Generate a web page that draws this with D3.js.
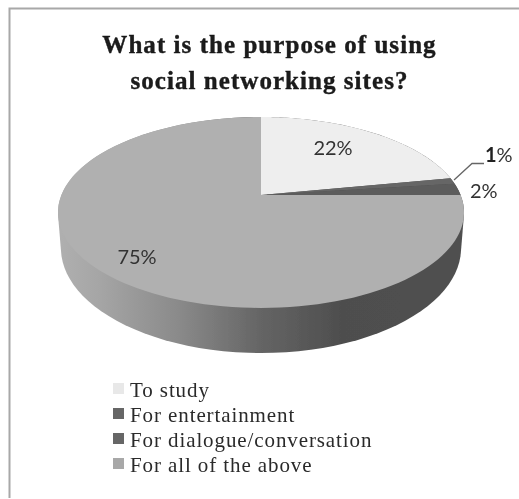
<!DOCTYPE html>
<html><head><meta charset="utf-8">
<script src="https://cdn.jsdelivr.net/npm/d3@7"></script>
<style>html,body{margin:0;padding:0;background:#fff}svg{display:block}</style>
</head><body><svg id="c" width="519" height="499"></svg>
<script>
const categories = ["To study","For entertainment","For dialogue/conversation","For all of the above"];
const values = [22,1,2,75];
const labels = ["22%","1%","2%","75%"];
const titleLines = ["What is the purpose of using","social networking sites?"];
const faceColors = ["#eeeeee","#666666","#5c5c5c","#b0b0b0"];
const swatchColors = ["#e8e8e8","#666666","#666666","#a8a8a8"];

const svg = d3.select("#c");
const defs = svg.append("defs");
const blur = defs.append("filter").attr("id","soft").attr("x","-5%").attr("y","-5%").attr("width","110%").attr("height","110%");
blur.append("feGaussianBlur").attr("stdDeviation",0.45);
const grad = defs.append("linearGradient").attr("id","wall").attr("gradientUnits","userSpaceOnUse")
  .attr("x1",57).attr("x2",463).attr("y1",0).attr("y2",0);
[[0,"#b0b0b0"],[0.1,"#a6a6a6"],[0.3,"#8a8a8a"],[0.5,"#656565"],[0.7,"#4e4e4e"],[1,"#505050"]]
  .forEach(([o,c])=>grad.append("stop").attr("offset",o).attr("stop-color",c));

// frame
const root = svg.append("g").attr("filter","url(#soft)");
root.append("path").attr("d","M9.5,498V8.5H519").attr("fill","none").attr("stroke","#a8a8a8").attr("stroke-width",2);

// projected circle (perspective tilt)
const apex = [261,195], k=-0.183;
const proj = (ang,a,b,ox,oy)=>{
  const u=Math.sin(ang), v=-Math.cos(ang), w=1+k*v;
  return [apex[0]+ox+a*u/w, apex[1]+oy+b*v/w];
};
const topP = ang=>proj(ang,199.6,92.3,0,0);
const botP = ang=>proj(ang,196.7,101.5,0,33.8);
const arcPts = (s,e,f)=>d3.range(0,121).map(i=>f(s+(e-s)*i/120));
const line = d3.line().curve(d3.curveLinear);

const arcs = d3.pie().sort(null).startAngle(0).endAngle(2*Math.PI)(values);

// side wall: silhouette of the two planes
const hull = d3.polygonHull(arcPts(0,2*Math.PI,topP).concat(arcPts(0,2*Math.PI,botP)));
root.append("path").attr("d",line(hull)+"Z").attr("fill","url(#wall)");

// faces
root.selectAll("path.face").data(arcs).join("path").attr("class","face")
  .attr("d",d=>line([apex].concat(arcPts(d.startAngle,d.endAngle,topP)))+"Z")
  .attr("fill",(d,i)=>faceColors[i]);

// leader
root.append("path").attr("d","M454,180L472,163.5H484").attr("fill","none").attr("stroke","#666").attr("stroke-width",1.3);

// data labels
const lblPos=[[333,155,"middle"],[485,162,"start"],[470,198,"start"],[137,264,"middle"]];
const lbl = root.selectAll("text.lbl").data(labels).join("text").attr("class","lbl")
  .attr("x",(d,i)=>lblPos[i][0]).attr("y",(d,i)=>lblPos[i][1]).attr("text-anchor",(d,i)=>lblPos[i][2])
  .attr("font-family","Lato").attr("font-size",20).attr("fill","#333");
lbl.filter((d,i)=>i!==1).text(d=>d);
lbl.filter((d,i)=>i===1).each(function(d){
  const t=d3.select(this);
  t.append("tspan").attr("font-weight","bold").attr("fill","#222").text(d[0]);
  t.append("tspan").text(d.slice(1));
});

// title
root.selectAll("text.title").data(titleLines).join("text").attr("class","title")
  .attr("x",269.5).attr("y",(d,i)=>53+i*36).attr("text-anchor","middle")
  .attr("font-family","Liberation Serif").attr("font-weight","bold").attr("font-size",25).attr("letter-spacing",1.05)
  .attr("fill","#1a1a1a").attr("stroke","#1a1a1a").attr("stroke-width",0.4).text(d=>d);

// legend
const leg = d3.scaleBand().domain(categories).range([376.5,476.5]);
const row = root.selectAll("g.leg").data(categories).join("g").attr("class","leg")
  .attr("transform",d=>`translate(113,${leg(d)})`);
row.append("rect").attr("y",6.5).attr("width",11).attr("height",11).attr("fill",(d,i)=>swatchColors[i]);
row.append("text").attr("x",17).attr("y",20).attr("font-family","Liberation Serif").attr("font-size",21).attr("letter-spacing",0.9).attr("fill","#2a2a2a").text(d=>d);
</script></body></html>
